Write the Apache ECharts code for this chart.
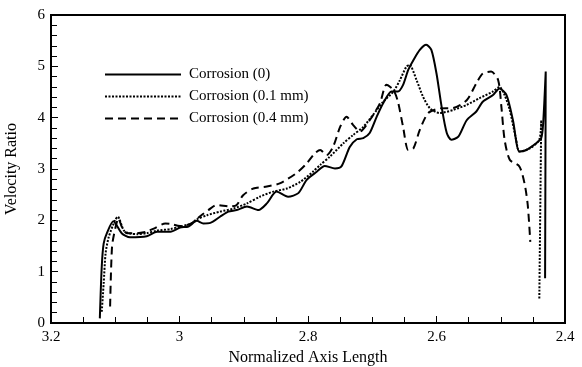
<!DOCTYPE html>
<html>
<head>
<meta charset="utf-8">
<script src="https://cdn.jsdelivr.net/npm/echarts@6/dist/echarts.min.js"></script>
<style>
  html, body { margin: 0; padding: 0; background: #fff; }
  #chart { width: 582px; height: 367px; }
</style>
</head>
<body>
<div id="chart"></div>
<script>
// values
const seriesNames = ["Corrosion (0)", "Corrosion (0.1 mm)", "Corrosion (0.4 mm)"];

const solidX = [3.124, 3.121, 3.118, 3.113, 3.103, 3.090, 3.077, 3.051, 3.035, 3.014, 2.999, 2.986, 2.973, 2.963,
  2.952, 2.937, 2.924, 2.911, 2.895, 2.877, 2.864, 2.849, 2.831, 2.815, 2.802, 2.786, 2.774, 2.758, 2.748,
  2.735, 2.724, 2.714, 2.704, 2.693, 2.683, 2.670, 2.660, 2.652, 2.644, 2.636, 2.626, 2.616, 2.608, 2.600,
  2.592, 2.584, 2.577, 2.566, 2.553, 2.538, 2.528, 2.512, 2.502, 2.491, 2.481, 2.471, 2.460, 2.445, 2.437,
  2.434, 2.430, 2.431];
const solidY = [0.09, 1.10, 1.55, 1.75, 1.98, 1.75, 1.67, 1.69, 1.78, 1.78, 1.86, 1.88, 1.99, 1.94,
  1.95, 2.07, 2.17, 2.20, 2.27, 2.20, 2.33, 2.56, 2.46, 2.53, 2.79, 2.95, 3.06, 3.01, 3.05,
  3.43, 3.58, 3.60, 3.70, 4.02, 4.28, 4.51, 4.51, 4.64, 4.93, 5.12, 5.32, 5.42, 5.32, 4.86,
  4.21, 3.70, 3.57, 3.63, 3.95, 4.12, 4.31, 4.44, 4.57, 4.44, 3.95, 3.34, 3.37, 3.50, 3.60,
  3.89, 4.90, 0.87];

const dottedX = [3.121, 3.118, 3.115, 3.110, 3.100, 3.096, 3.087, 3.079, 3.066, 3.051, 3.035, 3.014, 2.999, 2.983,
  2.973, 2.957, 2.937, 2.916, 2.895, 2.875, 2.854, 2.833, 2.812, 2.792, 2.781, 2.766, 2.745, 2.730, 2.714,
  2.699, 2.683, 2.667, 2.657, 2.647, 2.642, 2.631, 2.621, 2.610, 2.595, 2.574, 2.553, 2.533, 2.512, 2.502,
  2.494, 2.486, 2.476, 2.471, 2.455, 2.440, 2.437, 2.440];
const dottedY = [0.22, 0.77, 1.36, 1.68, 2.01, 2.07, 1.81, 1.75, 1.73, 1.75, 1.80, 1.83, 1.88, 1.93,
  2.02, 2.10, 2.17, 2.23, 2.33, 2.46, 2.56, 2.62, 2.75, 2.95, 3.08, 3.24, 3.50, 3.66, 3.82,
  4.05, 4.31, 4.51, 4.73, 4.99, 5.03, 4.73, 4.41, 4.18, 4.09, 4.15, 4.25, 4.38, 4.51, 4.60,
  4.44, 4.15, 3.57, 3.34, 3.40, 3.57, 3.95, 0.45];

const dashedX = [3.108, 3.105, 3.100, 3.095, 3.090, 3.082, 3.066, 3.051, 3.040, 3.022, 3.014, 2.999, 2.983, 2.968,
  2.955, 2.942, 2.921, 2.911, 2.901, 2.885, 2.864, 2.844, 2.818, 2.802, 2.789, 2.781, 2.771, 2.761, 2.750,
  2.740, 2.730, 2.719, 2.704, 2.688, 2.678, 2.667, 2.660, 2.652, 2.644, 2.636, 2.626, 2.613, 2.595, 2.574,
  2.553, 2.538, 2.528, 2.515, 2.504, 2.499, 2.494, 2.486, 2.471, 2.463, 2.458, 2.454];
const dashedY = [0.32, 1.49, 1.84, 2.04, 1.88, 1.75, 1.75, 1.78, 1.84, 1.94, 1.93, 1.89, 1.93, 2.08,
  2.20, 2.30, 2.27, 2.30, 2.49, 2.62, 2.66, 2.72, 2.92, 3.11, 3.31, 3.37, 3.27, 3.43, 3.82,
  4.02, 3.86, 3.73, 3.95, 4.28, 4.64, 4.54, 4.31, 3.82, 3.37, 3.40, 3.76, 4.09, 4.18, 4.19,
  4.34, 4.67, 4.86, 4.90, 4.73, 4.21, 3.57, 3.18, 3.05, 2.72, 2.30, 1.58];

const FONT = "Liberation Serif";

const zip = (xs, ys) => xs.map((x, i) => [x, ys[i]]);

function makeLine(name, xs, ys, type) {
    return {
        name: name,
        type: "line",
        data: zip(xs, ys),
        symbol: "none",
        smooth: 0.25,
        animation: false,
        itemStyle: { color: "#000" },
        lineStyle: { color: "#000", width: 2, type: type }
    };
}

const chart = echarts.init(document.getElementById("chart"), null, { renderer: "canvas" });

chart.setOption({
    backgroundColor: "#fff",
    animation: false,
    grid: {
        left: 51, right: 17, top: 15, bottom: 44,
        show: true, borderColor: "#000", borderWidth: 2,
        outerBoundsMode: "none"
    },
    legend: {
        orient: "vertical",
        left: 99, top: 62,
        itemWidth: 76, itemHeight: 14, itemGap: 7,
        data: seriesNames,
        itemStyle: { opacity: 0 },
        textStyle: { fontFamily: FONT, fontSize: 15, color: "#000", padding: [0, 0, 0, 3] }
    },
    xAxis: {
        type: "value",
        min: 2.4, max: 3.2, interval: 0.2,
        inverse: true,
        name: "Normalized Axis Length",
        nameLocation: "middle",
        nameGap: 24,
        nameTextStyle: { fontFamily: FONT, fontSize: 16, color: "#000" },
        axisLine: { lineStyle: { color: "#000", width: 2 } },
        axisTick: { inside: true, length: 7, lineStyle: { color: "#000", width: 1 } },
        minorTick: { show: true, splitNumber: 4, length: 6, lineStyle: { color: "#000", width: 1 } },
        axisLabel: { fontFamily: FONT, fontSize: 15, color: "#000", margin: 7 },
        splitLine: { show: false }
    },
    yAxis: {
        type: "value",
        min: 0, max: 6, interval: 1,
        name: "Velocity Ratio",
        nameLocation: "middle",
        nameGap: 31,
        nameTextStyle: { fontFamily: FONT, fontSize: 16, color: "#000" },
        axisLine: { show: true, lineStyle: { color: "#000", width: 2 } },
        axisTick: { show: true, inside: true, length: 7, lineStyle: { color: "#000", width: 1 } },
        minorTick: { show: true, splitNumber: 5, length: 6, lineStyle: { color: "#000", width: 1 } },
        axisLabel: { fontFamily: FONT, fontSize: 15, color: "#000", margin: 6 },
        splitLine: { show: false }
    },
    series: [
        makeLine(seriesNames[0], solidX, solidY, "solid"),
        makeLine(seriesNames[1], dottedX, dottedY, [2, 1.5]),
        makeLine(seriesNames[2], dashedX, dashedY, [8, 5])
    ]
});
</script>
</body>
</html>
